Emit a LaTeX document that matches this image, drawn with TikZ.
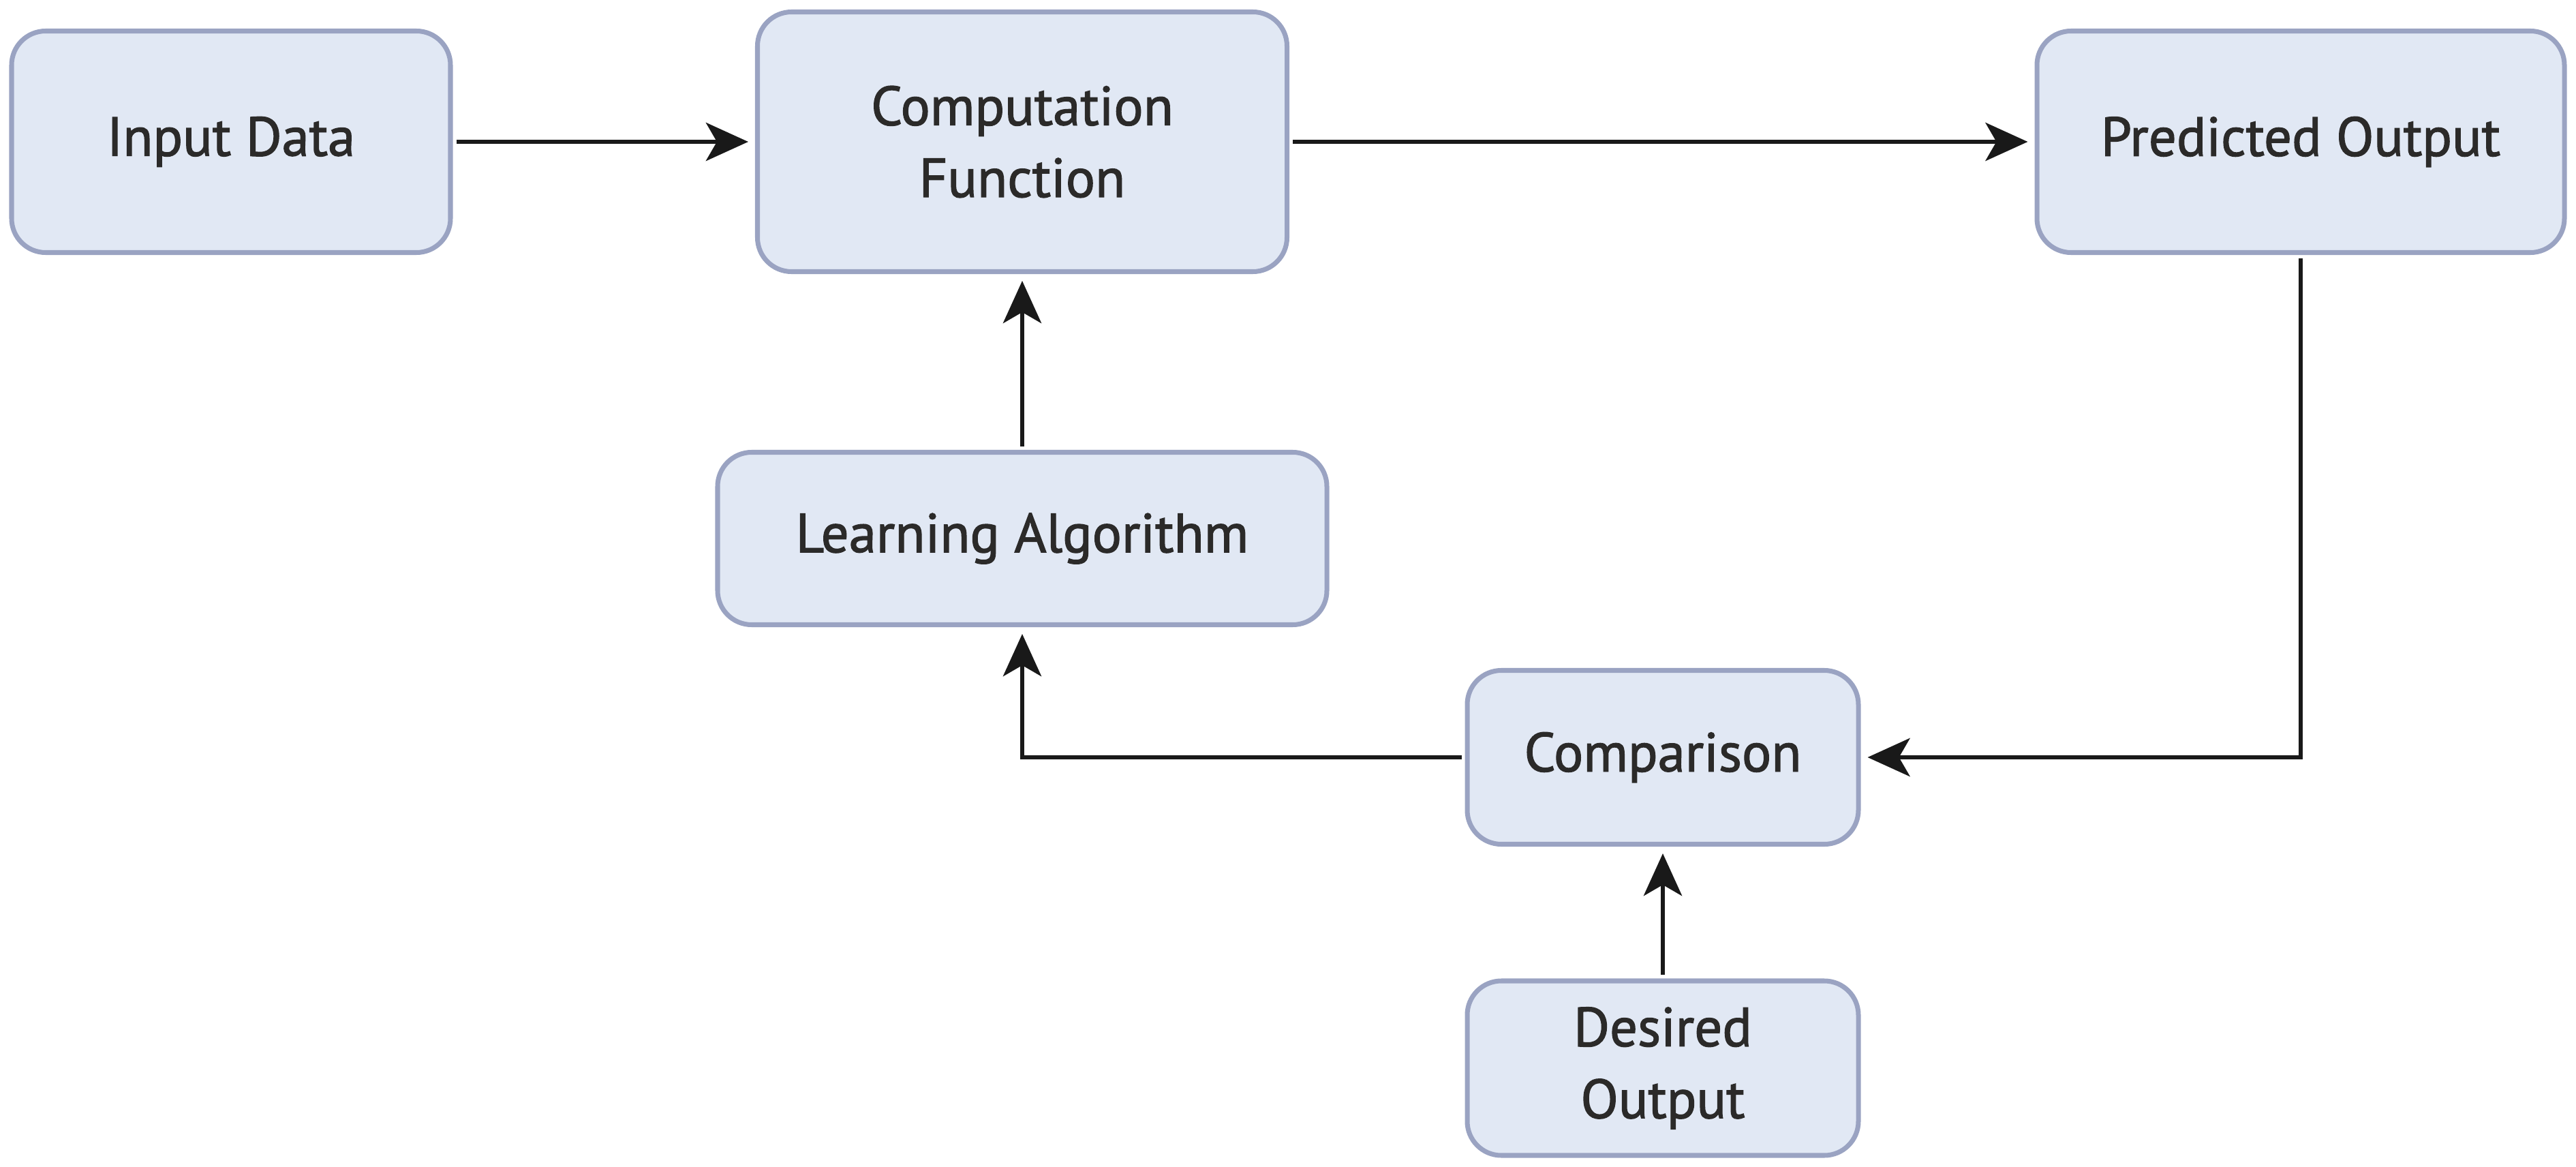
\documentclass[tikz,border=0pt]{standalone}
\usepackage{fontspec}
\setmainfont{PT Sans}[FakeBold=1.6]
\usetikzlibrary{arrows.meta, positioning, calc}
\usepackage{xcolor}
\definecolor{boxfill}{HTML}{E1E8F4}
\definecolor{boxline}{HTML}{9AA3C2}
\definecolor{inktext}{HTML}{2B2A29}

\begin{document}
\begin{tikzpicture}[
    block/.style={rectangle, rounded corners=0.5cm, draw=boxline, fill=boxfill, line width=2pt, align=center, font=\fontsize{23}{30}\selectfont, text=inktext},
    arrow/.style={-{Stealth[length=0.62cm, width=0.56cm, inset=0.16cm]}, line width=1.9pt, black!90, shorten >=0.1cm, shorten <=0.05cm}
]
    \useasboundingbox (0,0) rectangle (37.8,-17.12);

    % Main row
    \node[block, minimum width=6.44cm, minimum height=3.25cm] (input) at (3.39, -2.08) {Input Data};
    \node[block, minimum width=7.77cm, minimum height=3.81cm] (compfun) at (15.0, -2.08) {Computation\\Function};
    \node[block, minimum width=7.74cm, minimum height=3.25cm] (predout) at (33.76, -2.08) {Predicted Output};
    \draw[arrow] (input) -- (compfun);
    \draw[arrow] (compfun) -- (predout);

    % Learning loop
    \node[block, minimum width=8.94cm, minimum height=2.53cm] (learnalg) at (15.0, -7.9) {Learning Algorithm};
    \node[block, minimum width=5.74cm, minimum height=2.55cm] (compare) at (24.4, -11.11) {Comparison};
    \node[block, minimum width=5.74cm, minimum height=2.56cm] (desired) at (24.4, -15.67) {Desired\\Output};

    \draw[arrow] (predout.south) |- (compare.east);
    \draw[arrow] (compare.west) -| (learnalg.south);
    \draw[arrow] (learnalg) -- (compfun);
    \draw[arrow] (desired) -- (compare);
\end{tikzpicture}
\end{document}
